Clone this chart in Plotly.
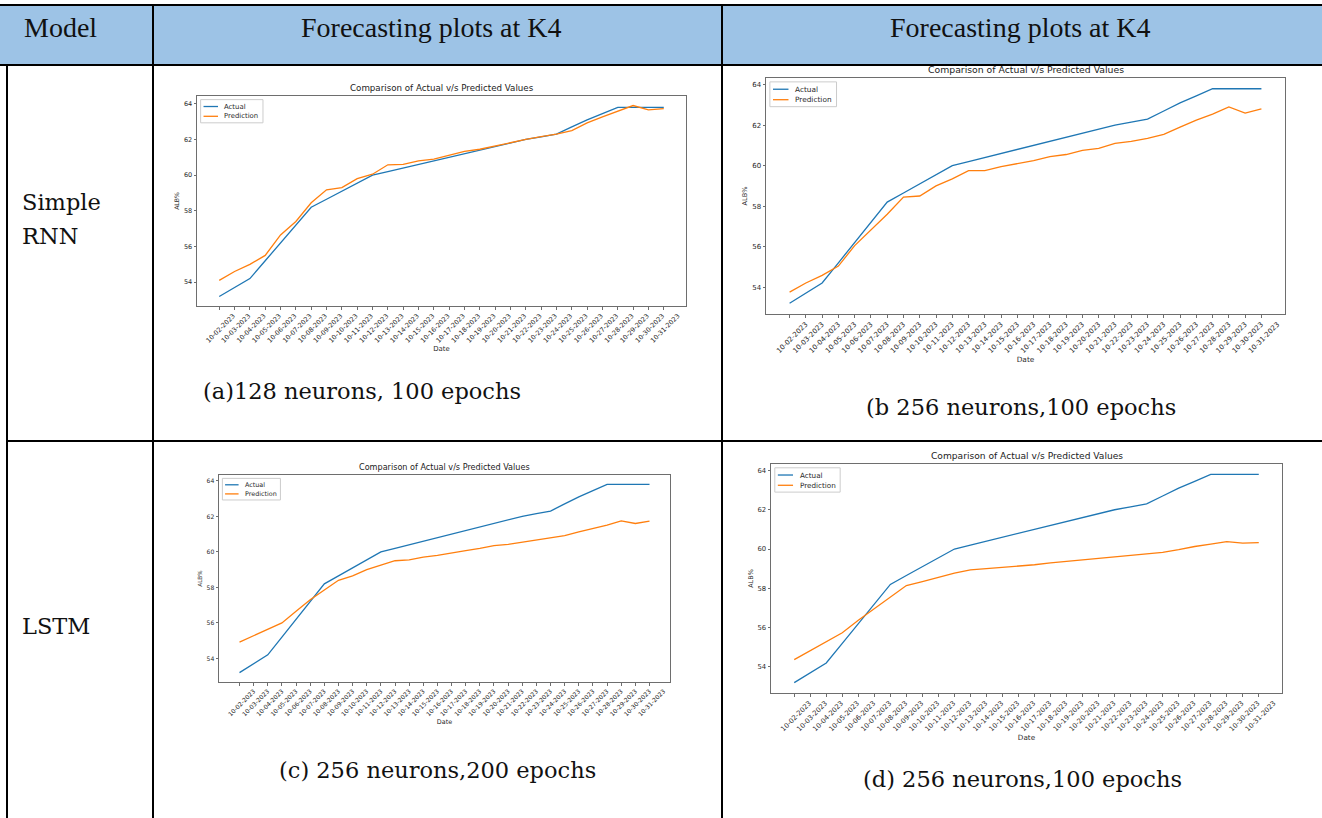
import plotly.graph_objects as go

W, H = 1322, 818

# ---------------- data ----------------
dates = ["10-02-2023", "10-03-2023", "10-04-2023", "10-05-2023", "10-06-2023",
         "10-07-2023", "10-08-2023", "10-09-2023", "10-10-2023", "10-11-2023",
         "10-12-2023", "10-13-2023", "10-14-2023", "10-15-2023", "10-16-2023",
         "10-17-2023", "10-18-2023", "10-19-2023", "10-20-2023", "10-21-2023",
         "10-22-2023", "10-23-2023", "10-24-2023", "10-25-2023", "10-26-2023",
         "10-27-2023", "10-28-2023", "10-29-2023", "10-30-2023", "10-31-2023"]

actual = [53.2, 53.7, 54.2, 55.2, 56.2, 57.2, 58.2, 58.65, 59.1, 59.55,
          60.0, 60.2, 60.4, 60.6, 60.8, 61.0, 61.2, 61.4, 61.6, 61.8,
          62.0, 62.15, 62.3, 62.7, 63.1, 63.45, 63.8, 63.8, 63.8, 63.8]

pred_a = [54.1, 54.6, 55.0, 55.5, 56.65, 57.4, 58.45, 59.18, 59.3, 59.8,
          60.05, 60.58, 60.6, 60.8, 60.9, 61.12, 61.33, 61.45, 61.64, 61.8,
          62.0, 62.16, 62.3, 62.5, 62.93, 63.27, 63.6, 63.9, 63.66, 63.73]

pred_b = [53.75, 54.2, 54.58, 55.04, 56.05, 56.8, 57.6, 58.45, 58.5, 59.0,
          59.35, 59.75, 59.75, 59.95, 60.1, 60.25, 60.45, 60.55, 60.75, 60.85,
          61.1, 61.2, 61.35, 61.55, 61.9, 62.25, 62.55, 62.9, 62.6, 62.8]

pred_c = [54.92, 55.27, 55.65, 56.0, 56.65, 57.3, 57.85, 58.4, 58.65, 59.0,
          59.25, 59.5, 59.55, 59.7, 59.8, 59.95, 60.07, 60.2, 60.35, 60.42,
          60.55, 60.67, 60.8, 60.92, 61.12, 61.3, 61.5, 61.75, 61.6, 61.73]

pred_d = [54.37, 54.83, 55.26, 55.74, 56.37, 56.97, 57.54, 58.14, 58.34, 58.55,
          58.77, 58.94, 59.0, 59.07, 59.15, 59.2, 59.3, 59.37, 59.45, 59.52,
          59.6, 59.68, 59.75, 59.83, 59.97, 60.13, 60.25, 60.38, 60.3, 60.33]

series_names = ["Actual", "Prediction"]
y_ticks = [54, 56, 58, 60, 62, 64]
chart_title = "Comparison of Actual v/s Predicted Values"
x_label = "Date"
y_label = "ALB%"
captions = ["(a)128 neurons, 100 epochs", "(b 256 neurons,100 epochs",
            "(c) 256 neurons,200 epochs", "(d) 256 neurons,100 epochs"]
header_labels = ["Model", "Forecasting plots at K4", "Forecasting plots at K4"]
row_labels = [["Simple", "RNN"], ["LSTM"]]

# ---------------- style ----------------
BLUE = "#1f77b4"
ORANGE = "#ff7f0e"
FRAME = "#6e6e6e"
HEADER_FILL = "#9dc3e6"
MPL_FONT = "DejaVu Sans"
SERIF = "DejaVu Serif"
HEAD_FONT = "Liberation Serif"
TXT = "#2a2a2a"

# panel frames in page pixels (left, top, right, bottom) and 10pt-equivalent font px
panels = [
    dict(pred=pred_a, frame=(197, 96, 686, 306), f=7.25, cap=(362, 391)),
    dict(pred=pred_b, frame=(766, 78, 1285, 314), f=7.75, cap=(1021, 407)),
    dict(pred=pred_c, frame=(219, 475, 670, 682), f=6.75, cap=(437, 770)),
    dict(pred=pred_d, frame=(771, 464, 1282, 693), f=7.6, cap=(1022, 779)),
]

fig = go.Figure()


def px(x):
    return x / W


def py(y):
    return 1 - y / H


layout_axes = {}
for k, p in enumerate(panels, start=1):
    xa = "x" if k == 1 else f"x{k}"
    ya = "y" if k == 1 else f"y{k}"
    L, T, R, B = p["frame"]
    f = p["f"]
    pw, ph = R - L, B - T

    fig.add_trace(go.Scatter(x=dates, y=actual, mode="lines", name=series_names[0],
                             line=dict(color=BLUE, width=1.3), xaxis=xa, yaxis=ya,
                             showlegend=False))
    fig.add_trace(go.Scatter(x=dates, y=p["pred"], mode="lines", name=series_names[1],
                             line=dict(color=ORANGE, width=1.3), xaxis=xa, yaxis=ya,
                             showlegend=False))

    lo = min(min(actual), min(p["pred"]))
    hi = max(max(actual), max(p["pred"]))
    ypad = 0.05 * (hi - lo)
    xpad = 0.05 * (len(dates) - 1)

    common = dict(showline=True, mirror=True, linecolor=FRAME, linewidth=1,
                  ticks="outside", ticklen=2.5, tickwidth=0.8, tickcolor=FRAME,
                  showgrid=False, zeroline=False, automargin=False,
                  tickfont=dict(family=MPL_FONT, size=f * 0.9, color=TXT))
    layout_axes["xaxis" if k == 1 else f"xaxis{k}"] = dict(
        domain=[px(L), px(R)], anchor=ya, type="category",
        range=[-xpad, len(dates) - 1 + xpad],
        tickmode="array", tickvals=dates, ticktext=dates, tickangle=-45,
        ticklabelshift=round(2.0 * f),
        title=dict(text=x_label, standoff=2,
                   font=dict(family=MPL_FONT, size=f * 0.95, color=TXT)),
        **common)
    layout_axes["yaxis" if k == 1 else f"yaxis{k}"] = dict(
        domain=[py(B), py(T)], anchor=xa, range=[lo - ypad, hi + ypad],
        tickmode="array", tickvals=y_ticks,
        title=dict(text=y_label, standoff=3,
                   font=dict(family=MPL_FONT, size=f * 0.85, color=TXT)),
        **common)

    xd, yd = f"{xa} domain", f"{ya} domain"

    # title
    fig.add_annotation(xref=xd, yref=yd, x=0.5, y=1, yanchor="bottom", yshift=1,
                       text=chart_title, showarrow=False,
                       font=dict(family=MPL_FONT, size=1.2 * f, color="#222222"))

    # legend (matplotlib-like, upper left)
    bx, by = 0.5 * f, 0.5 * f
    bw, bh = 8.6 * f, 3.2 * f
    fig.add_shape(type="rect", xref=xd, yref=yd,
                  x0=bx / pw, x1=(bx + bw) / pw, y0=1 - by / ph, y1=1 - (by + bh) / ph,
                  line=dict(color="#cccccc", width=1), fillcolor="rgba(255,255,255,0.85)")
    for j, (name, col) in enumerate(zip(series_names, [BLUE, ORANGE])):
        cy = by + (0.95 + 1.35 * j) * f
        fig.add_shape(type="line", xref=xd, yref=yd,
                      x0=(bx + 0.4 * f) / pw, x1=(bx + 2.4 * f) / pw,
                      y0=1 - cy / ph, y1=1 - cy / ph, line=dict(color=col, width=1.3))
        fig.add_annotation(xref=xd, yref=yd, x=(bx + 3.0 * f) / pw, y=1 - cy / ph,
                           xanchor="left", yanchor="middle", text=name, showarrow=False,
                           font=dict(family=MPL_FONT, size=f * 0.95, color=TXT))

    # caption
    cx, cyp = p["cap"]
    fig.add_annotation(xref="paper", yref="paper", x=px(cx), y=py(cyp),
                       text=captions[k - 1], showarrow=False, xanchor="center", yanchor="middle",
                       font=dict(family=SERIF, size=22.5, color="#111111"))

# ---------------- table ----------------
shapes = [
    dict(type="rect", xref="paper", yref="paper", x0=0, x1=1, y0=py(65), y1=py(5),
         fillcolor=HEADER_FILL, line=dict(width=0), layer="below"),
]
for yy in (5, 65, 441):
    shapes.append(dict(type="line", xref="paper", yref="paper", x0=0 if yy != 441 else px(7),
                       x1=1, y0=py(yy), y1=py(yy), line=dict(color="black", width=2)))
for xx in (153, 722):
    shapes.append(dict(type="line", xref="paper", yref="paper", x0=px(xx), x1=px(xx),
                       y0=0, y1=py(5), line=dict(color="black", width=2)))
shapes.append(dict(type="line", xref="paper", yref="paper", x0=px(7), x1=px(7),
                   y0=0, y1=py(65), line=dict(color="black", width=2)))
for s in shapes:
    fig.add_shape(**s)

head_pos = [(22, 27, "left"), (432, 27, "center"), (1020, 27, "center")]
for (hx, hy, anc), lab in zip(head_pos, header_labels):
    fig.add_annotation(xref="paper", yref="paper", x=px(hx), y=py(hy), text=lab,
                       showarrow=False, xanchor=anc, yanchor="middle",
                       font=dict(family=HEAD_FONT, size=28, color="#111111"))

row_pos = [[202, 236], [626]]
for labs, ys in zip(row_labels, row_pos):
    for lab, yy in zip(labs, ys):
        fig.add_annotation(xref="paper", yref="paper", x=px(20), y=py(yy), text=lab,
                           showarrow=False, xanchor="left", yanchor="middle",
                           font=dict(family=SERIF, size=22.5, color="#111111"))

fig.update_layout(width=W, height=H, margin=dict(l=0, r=0, t=0, b=0),
                  paper_bgcolor="white", plot_bgcolor="white", template="none",
                  showlegend=False, **layout_axes)

fig.write_html("out.html", config={"displayModeBar": False},
               post_script="document.body.style.margin='0px';"
                           "document.body.style.overflow='hidden';")
